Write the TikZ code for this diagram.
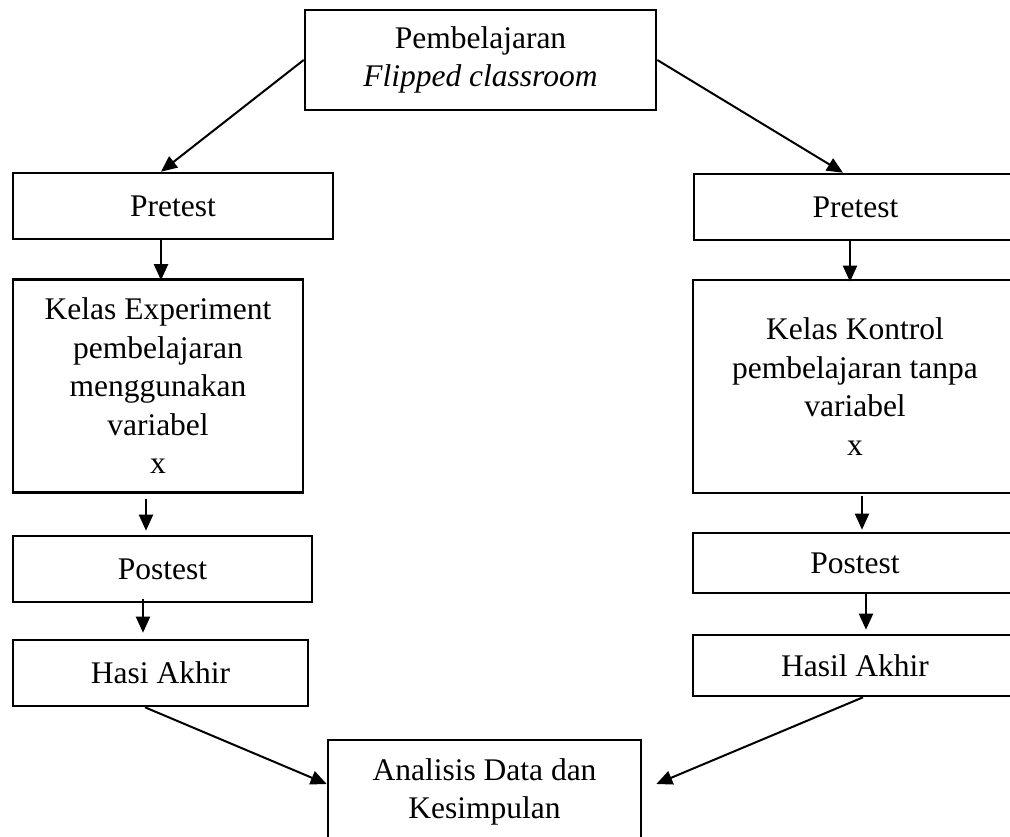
\documentclass[tikz,border=0pt]{standalone}
\usepackage{fontspec}
\setmainfont{Liberation Serif}
\usetikzlibrary{arrows.meta,calc}
\begin{document}
\begin{tikzpicture}[x=1pt,y=-1pt,
  box/.style={draw,line width=2.6pt,rectangle,inner sep=0pt,align=center,
    font=\fontsize{31.5}{38.5}\selectfont},
  arr/.style={line width=2pt,-{Triangle[length=16pt,width=14pt]}}]
\useasboundingbox (0,0) rectangle (1010,837);
% boxes
\node[box,minimum width=351pt,minimum height=100pt] (top) at (480.5,60)
  {Pembelajaran\\\textit{Flipped classroom}};
\node[box,minimum width=320pt,minimum height=66pt] (preL) at (173,206) {Pretest};
\node[box,minimum width=290pt,minimum height=213pt] (kelL) at (158,386)
  {Kelas Experiment\\pembelajaran\\menggunakan\\variabel\\x};
\node[box,minimum width=299pt,minimum height=66pt] (posL) at (162.5,569) {Postest};
\node[box,minimum width=295pt,minimum height=66pt] (hasL) at (160.5,673) {Hasi Akhir};
\node[box,minimum width=323pt,minimum height=66pt] (preR) at (855.5,207) {Pretest};
\node[box,minimum width=324pt,minimum height=213pt] (kelR) at (855,386.5)
  {Kelas Kontrol\\pembelajaran tanpa\\variabel\\x};
\node[box,minimum width=324pt,minimum height=60pt] (posR) at (855,563) {Postest};
\node[box,minimum width=324pt,minimum height=61pt] (hasR) at (855,665.5) {Hasil Akhir};
\node[box,minimum width=313pt,minimum height=104pt] (bot) at (484.5,792)
  {Analisis Data dan\\Kesimpulan};
% connectors
\draw[arr] (top.west) -- ([xshift=-12pt]preL.north);
\draw[arr] (top.east) -- ([xshift=-12.5pt]preR.north);
\draw[arr] ([xshift=3pt]kelL.north |- preL.south) -- ([xshift=3pt,yshift=-2pt]kelL.north);
\draw[arr,shorten <=5pt,shorten >=4pt] ([xshift=-12pt]kelL.south) -- ([xshift=-12pt]kelL.south |- posL.north);
\draw[arr,shorten <=-4pt,shorten >=6pt] ([xshift=-19.5pt]posL.south) -- ([xshift=-19.5pt]posL.south |- hasL.north);
\draw[arr] ([xshift=-15.5pt]hasL.south) -- ([yshift=8pt]bot.west);
\draw[arr] ([xshift=-5.5pt]preR.south) -- ([xshift=-5.5pt,yshift=-3pt]preR.south |- kelR.north);
\draw[arr,shorten <=2pt,shorten >=2pt] ([xshift=7pt]kelR.south) -- ([xshift=7pt]kelR.south |- posR.north);
\draw[arr,shorten >=4pt] ([xshift=11pt]posR.south) -- ([xshift=11pt]posR.south |- hasR.north);
\draw[arr] ([xshift=8pt]hasR.south) -- ([xshift=14pt,yshift=8pt]bot.east);
\end{tikzpicture}
\end{document}
